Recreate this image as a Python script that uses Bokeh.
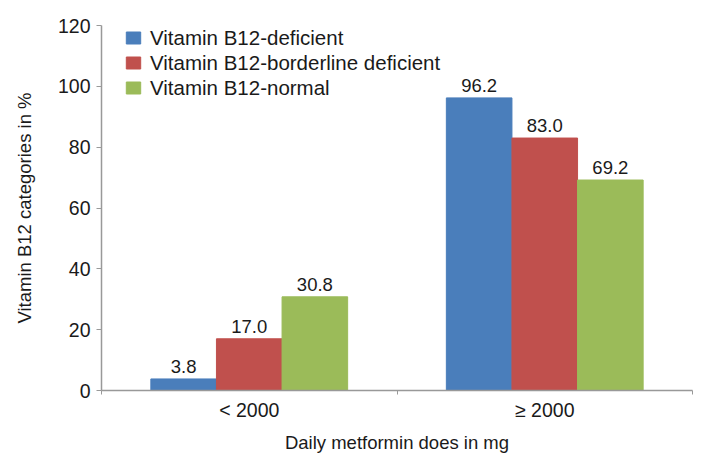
from bokeh.plotting import figure
from bokeh.models import ColumnDataSource, FixedTicker, Range1d, Legend, LegendItem
from bokeh.core.properties import value
from bokeh.embed import file_html
from bokeh.resources import INLINE

categories = ["< 2000", "\u2265 2000"]
series_names = ["Vitamin B12-deficient", "Vitamin B12-borderline deficient", "Vitamin B12-normal"]
deficient = [3.8, 96.2]
borderline = [17.0, 83.0]
normal = [30.8, 69.2]
colors = ["#4A7EBB", "#C0504D", "#9BBB59"]

FONT = "Liberation Sans"
BAR_W = 0.222
TXT = "#1a1a1a"

p = figure(width=702, height=464, output_backend="svg", toolbar_location=None,
           x_range=Range1d(0, 2), y_range=Range1d(0, 120),
           min_border_left=101, min_border_right=10, min_border_top=25, min_border_bottom=74)
p.outline_line_color = None
p.grid.grid_line_color = None
p.background_fill_color = "white"
p.border_fill_color = "white"

items = []
for si, (name, vals) in enumerate(zip(series_names, [deficient, borderline, normal])):
    xs = [ci + 0.5 + (si - 1) * BAR_W for ci in range(len(categories))]
    src = ColumnDataSource(dict(x=xs, top=vals, lab=["%.1f" % v for v in vals]))
    r = p.vbar(x="x", top="top", width=BAR_W, bottom=0, source=src,
               fill_color=colors[si], line_color=colors[si])
    p.text(x="x", y="top", text="lab", source=src, text_align="center",
           text_baseline="bottom", y_offset=-6, text_font=value(FONT),
           text_font_size="18.5px", text_color=TXT)
    items.append(LegendItem(label=name, renderers=[r]))

legend = Legend(items=items, location=(23, 290), padding=0, spacing=0, margin=0,
                label_height=25, glyph_height=15, glyph_width=18, label_standoff=8,
                label_text_font=FONT, label_text_font_size="20.5px", label_text_color=TXT,
                background_fill_alpha=0, border_line_color=None)
p.add_layout(legend, "center")

# x axis
p.xaxis.ticker = FixedTicker(ticks=[0.5, 1.5], minor_ticks=[0, 1, 2])
p.xaxis.major_label_overrides = {0.5: categories[0], 1.5: categories[1]}
p.xaxis.major_tick_line_color = None
p.xaxis.minor_tick_in = 0
p.xaxis.minor_tick_out = 4
p.xaxis.minor_tick_line_color = "#999999"
p.xaxis.axis_label = "Daily metformin does in mg"
p.xaxis.major_label_standoff = 2

# y axis
p.yaxis.ticker = FixedTicker(ticks=[0, 20, 40, 60, 80, 100, 120], minor_ticks=[])
p.yaxis.major_tick_in = 0
p.yaxis.major_tick_out = 5
p.yaxis.major_tick_line_color = "#999999"
p.yaxis.axis_label = "Vitamin B12 categories in %"
p.yaxis.major_label_standoff = 6
p.yaxis.axis_label_standoff = 20

for ax in [p.xaxis, p.yaxis]:
    ax.axis_line_color = "#999999"
    ax.axis_line_width = 1.5
    ax.major_label_text_font = FONT
    ax.major_label_text_font_size = "19.5px"
    ax.major_label_text_color = TXT
    ax.axis_label_text_font = FONT
    ax.axis_label_text_font_size = "18.5px"
    ax.axis_label_text_font_style = "normal"
    ax.axis_label_text_color = TXT
p.xaxis.axis_label_standoff = 8

open("out.html", "w").write(file_html(p, INLINE))
